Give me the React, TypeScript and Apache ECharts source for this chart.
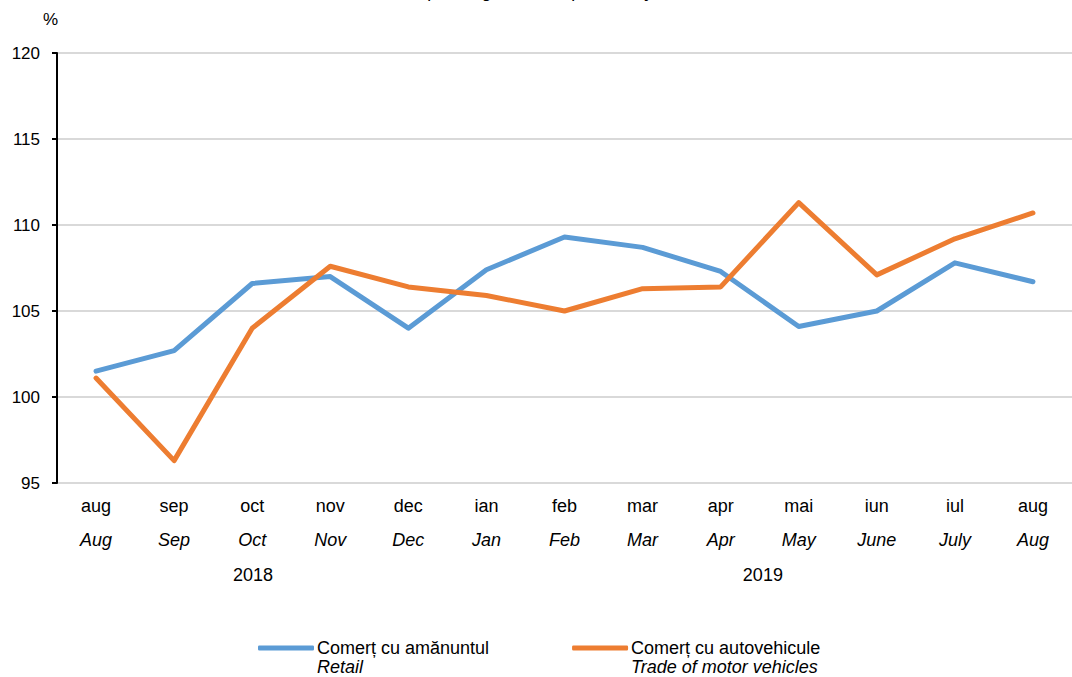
import React, { useEffect, useRef } from "react";
import * as echarts from "echarts";

const monthsRo = ["aug", "sep", "oct", "nov", "dec", "ian", "feb", "mar", "apr", "mai", "iun", "iul", "aug"];
const monthsEn = ["Aug", "Sep", "Oct", "Nov", "Dec", "Jan", "Feb", "Mar", "Apr", "May", "June", "July", "Aug"];
const retail = [101.5, 102.7, 106.6, 107.0, 104.0, 107.4, 109.3, 108.7, 107.3, 104.1, 105.0, 107.8, 106.7];
const motorVehicles = [101.1, 96.3, 104.0, 107.6, 106.4, 105.9, 105.0, 106.3, 106.4, 111.3, 107.1, 109.2, 110.7];
const yearLabels = [
  { text: "2018", index: 2 },
  { text: "2019", index: 8.5 },
];
const seriesNames = ["Comerț cu amănuntul\nRetail", "Comerț cu autovehicule\nTrade of motor vehicles"];

const FONT = "'Liberation Sans', Arial, sans-serif";

export default function App() {
  const ref = useRef<HTMLDivElement>(null);
  useEffect(() => {
    document.body.style.margin = "0";
    const chart = echarts.init(ref.current!, null, { renderer: "svg" });
    const gridLeft = 57;
    const gridWidth = 1019.6;
    const band = gridWidth / monthsRo.length;
    chart.setOption({
      animation: false,
      textStyle: { fontFamily: FONT },
      grid: { left: gridLeft, top: 53, width: gridWidth, bottom: 194, containLabel: false },
      xAxis: {
        type: "category",
        data: monthsRo.map((m, i) => `{a|${m}}\n{b|${monthsEn[i]}}`),
        boundaryGap: true,
        axisLine: { show: false },
        axisTick: { show: false },
        axisLabel: {
          interval: 0,
          margin: 6,
          rich: {
            a: { fontSize: 18, color: "#000", lineHeight: 34, fontFamily: FONT },
            b: { fontSize: 18, color: "#000", lineHeight: 34, fontStyle: "italic", fontFamily: FONT },
          },
        },
      },
      yAxis: {
        type: "value",
        min: 95,
        max: 120,
        interval: 5,
        axisLine: { show: true, lineStyle: { color: "#000", width: 2 } },
        axisTick: { show: true, length: 5, lineStyle: { color: "#000", width: 2 } },
        axisLabel: { margin: 17, fontSize: 17, color: "#000", fontFamily: FONT },
        splitLine: { show: true, lineStyle: { color: "#d9d9d9", width: 2 } },
      },
      legend: {
        bottom: -4,
        left: 253,
        itemGap: 83,
        itemWidth: 56,
        itemHeight: 5,
        icon: "roundRect",
        formatter: (name: string) => {
          const [a, b] = name.split("\n");
          return `{a|${a}}\n{b|${b}}`;
        },
        textStyle: {
          padding: [19, 0, 0, -2],
          rich: {
            a: { fontSize: 18, color: "#000", lineHeight: 19, fontFamily: FONT },
            b: { fontSize: 18, color: "#000", lineHeight: 19, fontStyle: "italic", fontFamily: FONT },
          },
        },
        data: seriesNames,
      },
      graphic: [
        {
          type: "text",
          left: 43,
          top: 11,
          style: { text: "%", fontSize: 17, fill: "#000", fontFamily: FONT },
        },
        {
          type: "text",
          x: 555,
          y: 0,
          style: {
            text: "corresponding month of previous year = 100",
            fontSize: 18,
            fontStyle: "italic",
            fill: "#000",
            fontFamily: FONT,
            align: "center",
            verticalAlign: "bottom",
          },
        },
        ...yearLabels.map((y) => ({
          type: "text",
          x: gridLeft + band * (y.index + 0.5),
          y: 575,
          style: {
            text: y.text,
            fontSize: 18,
            fill: "#000",
            fontFamily: FONT,
            align: "center",
            verticalAlign: "middle",
          },
        })),
      ],
      series: [
        {
          name: seriesNames[0],
          type: "line",
          data: retail,
          symbol: "none",
          lineStyle: { color: "#5B9BD5", width: 5, cap: "round", join: "round" },
          itemStyle: { color: "#5B9BD5" },
        },
        {
          name: seriesNames[1],
          type: "line",
          data: motorVehicles,
          symbol: "none",
          lineStyle: { color: "#ED7D31", width: 5, cap: "round", join: "round" },
          itemStyle: { color: "#ED7D31" },
        },
      ],
    });
    return () => chart.dispose();
  }, []);
  return <div ref={ref} style={{ width: 1072, height: 677, position: "absolute", left: 0, top: 0 }} />;
}
